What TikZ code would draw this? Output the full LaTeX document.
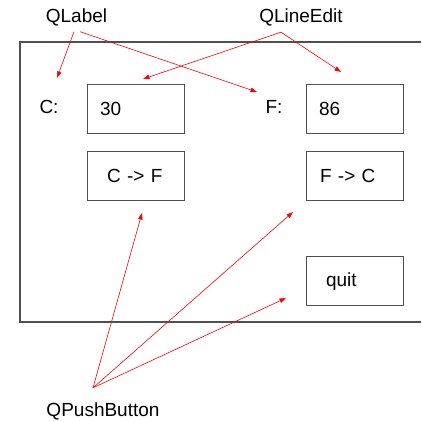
\documentclass[tikz,border=0pt]{standalone}
\usepackage{fontspec}
\setmainfont{Liberation Sans}
\usepackage{xcolor}
\usepackage{tikz}
\usetikzlibrary{positioning,arrows.meta}
\definecolor{framegray}{HTML}{505050}
\tikzstyle{widget}=[rectangle, draw=framegray, line width=0.9pt, minimum height=49pt,
        text width=71pt, inner xsep=13pt, align=left, anchor=center]
\tikzstyle{caption}=[inner sep=3.3pt]
\tikzstyle{hint}=[->, >={Triangle[length=6.5pt,width=4.5pt]}, red, line width=0.6pt]

\begin{document}
\begin{tikzpicture}[x=1pt, y=-1pt, font=\fontsize{19}{23}\selectfont]
    \useasboundingbox (0,0) rectangle (421,422);
    \clip (0,0) rectangle (421,422);
    % window frame, right side runs off the page
    \draw[framegray, line width=1.1pt] (20,42) rectangle (440,322);
    \node (edC) [widget] at (135.5,108.5) {30};
    \node (edF) [widget] at (354.5,108.5) {86};
    \node (btnCF) [widget, below=18pt of edC] {\hspace*{7pt}C -> F};
    \node (btnFC) [widget, below=18pt of edF] {\hspace*{1pt}F -> C};
    \node (btnQuit) [widget, below=55pt of btnFC] {\hspace*{7pt}quit};
    \node (lblC) [caption] at (49,106.5) {C:};
    \node (lblF) [caption] at (274,106.5) {F:};
    \node (QLabel) [caption] at (76.5,17) {QLabel};
    \node (QLineEdit) [caption] at (301,17) {QLineEdit};
    \node (QPushButton) [caption] at (103,411) {QPushButton};
    \coordinate (tipC) at (57,78);
    \coordinate (tipF) at (257,92);
    \coordinate (tipEdC) at (143,79);
    \coordinate (tipEdF) at (341,72);
    \coordinate (tipCF) at (142,213);
    \coordinate (tipFC) at (293,212);
    \coordinate (tipQuit) at (286,298);
	\draw[hint] ([xshift=-2.5pt, yshift=-2.5pt]QLabel.south) -- (tipC);
    \draw[hint] ([xshift=3.5pt, yshift=-2.5pt]QLabel.south) -- (tipF);
    \draw[hint] ([xshift=-20pt, yshift=-3pt]QLineEdit.south) -- (tipEdC);
    \draw[hint] ([xshift=-20pt, yshift=-3pt]QLineEdit.south) -- (tipEdF);
    \draw[hint] ([xshift=-10pt, yshift=11pt]QPushButton.north) -- (tipCF);
    \draw[hint] ([xshift=-10pt, yshift=11pt]QPushButton.north) -- (tipFC);
    \draw[hint] ([xshift=-10pt, yshift=11pt]QPushButton.north) -- (tipQuit);
\end{tikzpicture}
\end{document}
